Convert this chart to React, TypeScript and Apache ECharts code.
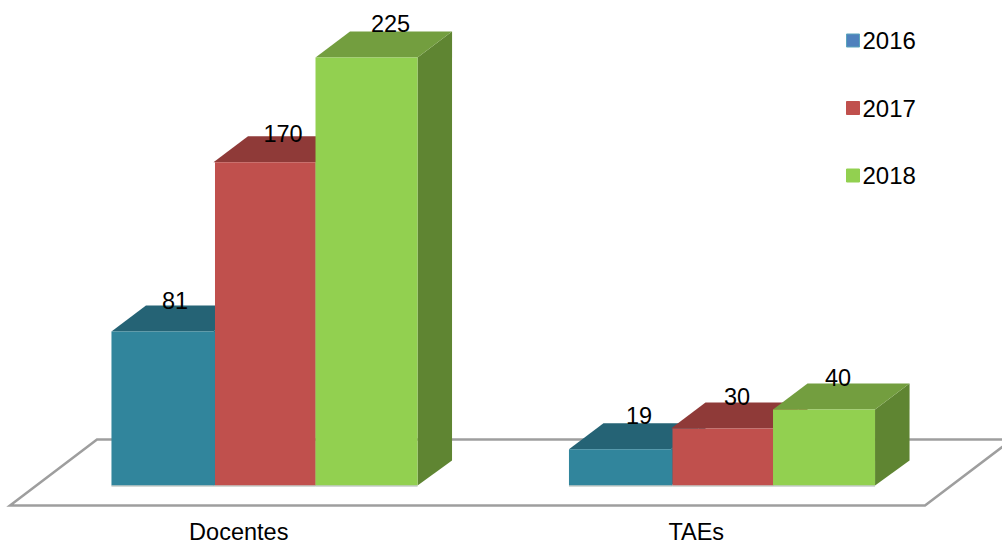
import React, { useEffect, useRef } from "react";
import * as echarts from "echarts";

const categories = ["Docentes", "TAEs"];
const years = ["2016", "2017", "2018"];
const values2016 = [81, 19];
const values2017 = [170, 30];
const values2018 = [225, 40];

const FONT = '"Liberation Sans", Arial, sans-serif';
const TEXT_SIZE = 23.5;
const LEGEND_SIZE = 24;

// Extrusion of each block and the position of the bar row on the floor.
const DEPTH_X = 34.5;
const DEPTH_Y = 26;
const ROW_SHIFT = 25.75;
const BAR_SHARE = 0.223;

// The first block's face runs slightly past its neighbour's left edge.
const faceGrow = [1.5, 0, 0];
const faceInset = [0, 1.5, 0];

// Floor parallelogram, relative to the plot's bottom edge.
const FLOOR_FRONT = 20;
const FLOOR_BACK = -46;
const FLOOR_DEPTH = 87;

const palettes = [
  { front: "#31859C", top: "#256375", side: "#256375", legend: "#4F81BD", legendEdge: "#5AA5BC" },
  { front: "#C0504D", top: "#8F3A38", side: "#8F3A38", legend: "#C0504D", legendEdge: "#C0504D" },
  { front: "#92D050", top: "#739E3F", side: "#5F8532", legend: "#92D050", legendEdge: "#92D050" },
];

// Horizontal and vertical nudges of the value labels, per year and category.
const labelNudgeX = [[12.5, 19], [18.5, 15], [24, 14]];
const labelNudgeY = [[-30, -33], [-28, -31], [-33.5, -31]];

const barSeries = (name: string, values: number[], s: number) => ({
  name,
  type: "custom",
  z: 2,
  clip: false,
  encode: { x: 0, y: 1 },
  itemStyle: { color: palettes[s].front },
  data: values.map((v, i) => [i, v]),
  renderItem: (_params: any, api: any) => {
    const cat = api.value(0);
    const val = api.value(1);
    const [cx, topY] = api.coord([cat, val]);
    const [, baseY] = api.coord([cat, 0]);
    const w = api.size([1, 0])[0] * BAR_SHARE;
    const x0 = cx + ROW_SHIFT + (s - 1.5) * w;
    const x1 = x0 + w;
    const p = palettes[s];
    const faceX = x0 + faceInset[s];
    const faceEnd = x1 + faceGrow[s];
    return {
      type: "group",
      children: [
        {
          type: "polygon",
          shape: { points: [[x1, topY], [x1 + DEPTH_X, topY - DEPTH_Y], [x1 + DEPTH_X, baseY - 25], [x1, baseY]] },
          style: { fill: p.side },
        },
        {
          type: "polygon",
          shape: { points: [[x0, topY], [x0 + DEPTH_X, topY - DEPTH_Y], [x1 + DEPTH_X, topY - DEPTH_Y], [x1, topY]] },
          style: { fill: p.top },
        },
        {
          type: "rect",
          shape: { x: faceX, y: topY, width: faceEnd - faceX, height: baseY - topY },
          style: { fill: p.front },
        },
        {
          type: "line",
          shape: { x1: faceX, y1: baseY + 0.5, x2: faceEnd, y2: baseY + 0.5 },
          style: { stroke: "#A9B3AE", lineWidth: 1 },
        },
        {
          type: "text",
          style: {
            text: String(val),
            x: x0 + w / 2 + labelNudgeX[s][cat],
            y: topY + labelNudgeY[s][cat],
            align: "center",
            verticalAlign: "middle",
            font: `${TEXT_SIZE}px ${FONT}`,
            fill: "#000",
          },
        },
      ],
    };
  },
});

const floorSeries = {
  type: "custom",
  z: 1,
  clip: false,
  silent: true,
  encode: { x: 0, y: 1 },
  data: [[0, 0]],
  renderItem: (params: any) => {
    const { x, y, width, height } = params.coordSys;
    const bottom = y + height;
    return {
      type: "polygon",
      shape: {
        points: [
          [x, bottom + FLOOR_FRONT],
          [x + FLOOR_DEPTH, bottom + FLOOR_BACK],
          [x + width + FLOOR_DEPTH, bottom + FLOOR_BACK],
          [x + width, bottom + FLOOR_FRONT],
        ],
      },
      style: { fill: "#fff", stroke: "#9E9E9E", lineWidth: 2.5 },
    };
  },
};

export default function App() {
  const ref = useRef<HTMLDivElement>(null);

  useEffect(() => {
    const chart = echarts.init(ref.current!, undefined, { renderer: "svg" });
    chart.setOption({
      animation: false,
      backgroundColor: "#fff",
      grid: { left: 10, right: 77, top: 10, bottom: 56.5, outerBoundsMode: "none" },
      xAxis: {
        type: "category",
        data: categories,
        axisLine: { show: false },
        axisTick: { show: false },
        axisLabel: { margin: 37, lineHeight: 19, color: "#000", fontFamily: FONT, fontSize: TEXT_SIZE },
      },
      yAxis: { type: "value", min: 0, max: 250, show: false },
      legend: {
        orient: "vertical",
        left: 841,
        top: 23.5,
        itemWidth: 13,
        itemHeight: 13,
        itemGap: 43.5,
        selectedMode: false,
        textStyle: { color: "#000", fontFamily: FONT, fontSize: LEGEND_SIZE, padding: [0, 0, 0, -2] },
        data: years.map((name, i) => ({
          name,
          icon: "rect",
          itemStyle: { color: palettes[i].legend, borderColor: palettes[i].legendEdge, borderWidth: 1 },
        })),
      },
      series: [
        floorSeries,
        barSeries(years[0], values2016, 0),
        barSeries(years[1], values2017, 1),
        barSeries(years[2], values2018, 2),
      ],
    });
    return () => chart.dispose();
  }, []);

  return <div ref={ref} style={{ position: "fixed", left: 0, top: 0, width: 1002, height: 542 }} />;
}
